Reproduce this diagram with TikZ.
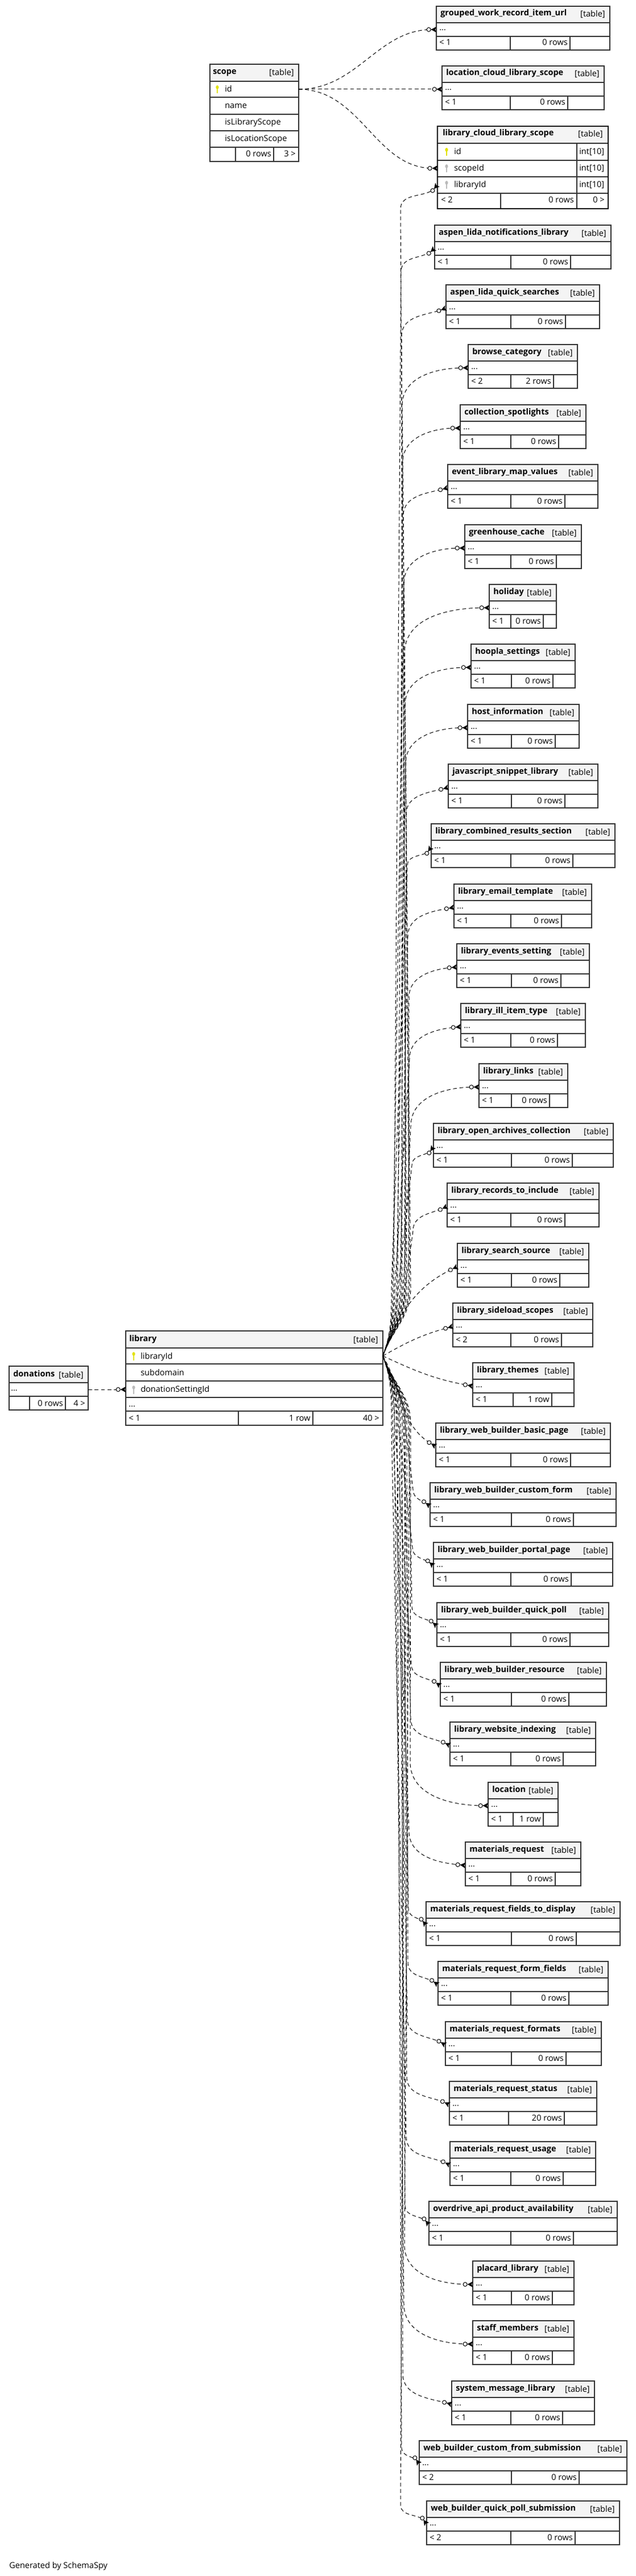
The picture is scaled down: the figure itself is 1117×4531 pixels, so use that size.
\documentclass[tikz,border=0pt]{standalone}
\usepackage{fontspec}
\setmainfont{Open Sans}
\usetikzlibrary{arrows.meta,calc}

\definecolor{hdrgray}{HTML}{F4F4F4}
\definecolor{tblgray}{HTML}{333333}
\definecolor{keyyellow}{HTML}{E2E200}
\definecolor{keygray}{HTML}{BBBBBB}

\newcommand{\tsize}{\fontsize{10.9pt}{13pt}\selectfont}

\tikzset{
  tblline/.style={draw=tblgray, line width=1pt},
  tname/.style={anchor=base west, inner sep=0pt, font=\tsize\bfseries},
  ttag/.style={anchor=base east, inner sep=0pt, font=\tsize},
  ttext/.style={anchor=base west, inner sep=0pt, font=\tsize},
  trows/.style={anchor=base east, inner sep=0pt, font=\tsize},
  fk/.style={line width=0.75pt, dash pattern=on 5pt off 3.5pt,
    -{Circle[fill=white,length=6pt,width=6pt] Stealth[reversed,length=7pt,width=7.5pt,inset=1.5pt]}}
}

%ключ
\newcommand{\keyicon}[2]{%
  \fill[#2] ($(#1)+(0,3.5)$) ellipse (2.6 and 3.4);
  \fill[#2] ($(#1)+(-1,1)$) rectangle ($(#1)+(1,-7.5)$);}

%маленькая таблица: имя, название, лево, право, верх, деления, < n, строки
\newcommand{\tbl}[9]{%
  \fill[hdrgray] (#3,-#5) rectangle (#4,-#5-29);
  \fill[white] (#3,-#5-29) rectangle (#4,-#5-77);
  \draw[tblline] (#3,-#5-29) -- (#4,-#5-29);
  \draw[tblline] (#3,-#5-53) -- (#4,-#5-53);
  \draw[tblline] (#6,-#5-53) -- (#6,-#5-77);
  \draw[tblline] (#7,-#5-53) -- (#7,-#5-77);
  \draw[tblline] (#3,-#5) rectangle (#4,-#5-77);
  \node[tname] (#1) at (#3+7,-#5-17) {#2};
  \node[ttag] (#1-tag) at (#4-8,-#5-19) {[table]};
  \node[ttext] (#1-dots) at (#3+5,-#5-43) {...};
  \node[ttext] (#1-up) at (#3+5,-#5-69) {#8};
  \node[trows] (#1-rows) at (#7-4,-#5-69) {#9};
  \coordinate (#1-in) at (#3,-#5-41);}

%связь от library вверх и вниз: цель, x внизу, x вверху, начало дуги, угол, фаза
\newcommand{\fkup}[6]{%
  \draw[fk, dash phase=#6pt] (lib-key) to[out=70,in=-90] (#2,-2265) -- (#3,-#4) to[out=90,in=#5] (#1);}
\newcommand{\fkdown}[6]{%
  \draw[fk, dash phase=#6pt] (lib-key) to[out=-70,in=90] (#2,-2505) -- (#3,-#4) to[out=-90,in=#5] (#1);}

\begin{document}
\begin{tikzpicture}[x=0.75pt,y=0.75pt]
\useasboundingbox (0,0) rectangle (1117,-4531);
\fill[white] (0,0) rectangle (1117,-4531);

%точки связей
\coordinate (scope-id) at (525,-157);
\coordinate (lib-key) at (673,-2385);
\coordinate (lib-don) at (221,-2444);
\coordinate (don-out) at (155,-2444);
\coordinate (lcl-scope) at (769,-296);
\coordinate (lcl-lib) at (769,-325);

%таблицы справа
\tbl{gwriu}{grouped\_work\_record\_item\_url}{767}{1072}{11}{897}{1002}{< 1}{0 rows}
\tbl{lcls}{location\_cloud\_library\_scope}{777}{1062}{116}{897}{998}{< 1}{0 rows}
\tbl{alnl}{aspen\_lida\_notifications\_library}{764}{1074}{396}{898}{1003}{< 1}{0 rows}
\tbl{alqs}{aspen\_lida\_quick\_searches}{784}{1054}{501}{898}{994}{< 1}{0 rows}
\tbl{bc}{browse\_category}{823}{1015}{606}{898}{973}{< 2}{2 rows}
\tbl{cs}{collection\_spotlights}{809}{1030}{712}{898}{982}{< 1}{0 rows}
\tbl{elmv}{event\_library\_map\_values}{787}{1051}{817}{898}{993}{< 1}{0 rows}
\tbl{gc}{greenhouse\_cache}{817}{1022}{923}{898}{978}{< 1}{0 rows}
\tbl{hol}{holiday}{860}{978}{1028}{898}{955}{< 1}{0 rows}
\tbl{hs}{hoopla\_settings}{828}{1011}{1133}{899}{972}{< 1}{0 rows}
\tbl{hi}{host\_information}{822}{1018}{1239}{899}{976}{< 1}{0 rows}
\tbl{jsl}{javascript\_snippet\_library}{788}{1051}{1344}{899}{993}{< 1}{0 rows}
\tbl{lcrs}{library\_combined\_results\_section}{758}{1081}{1449}{898}{1007}{< 1}{0 rows}
\tbl{let}{library\_email\_template}{798}{1040}{1555}{898}{987}{< 1}{0 rows}
\tbl{les}{library\_events\_setting}{803}{1036}{1660}{899}{986}{< 1}{0 rows}
\tbl{liit}{library\_ill\_item\_type}{810}{1029}{1765}{898}{980}{< 1}{0 rows}
\tbl{ll}{library\_links}{842}{998}{1871}{899}{966}{< 1}{0 rows}
\tbl{loac}{library\_open\_archives\_collection}{762}{1078}{1976}{899}{1006}{< 1}{0 rows}
\tbl{lrti}{library\_records\_to\_include}{786}{1053}{2081}{898}{993}{< 1}{0 rows}
\tbl{lss}{library\_search\_source}{804}{1035}{2187}{899}{984}{< 1}{0 rows}
\tbl{lsls}{library\_sideload\_scopes}{796}{1042}{2292}{898}{987}{< 2}{0 rows}
\tbl{lt}{library\_themes}{831}{1009}{2397}{902}{970}{< 1}{1 row}
\tbl{lwbbp}{library\_web\_builder\_basic\_page}{766}{1073}{2503}{898}{1003}{< 1}{0 rows}
\tbl{lwbcf}{library\_web\_builder\_custom\_form}{756}{1083}{2608}{899}{1008}{< 1}{0 rows}
\tbl{lwbpp}{library\_web\_builder\_portal\_page}{762}{1077}{2713}{898}{1004}{< 1}{0 rows}
\tbl{lwbqp}{library\_web\_builder\_quick\_poll}{768}{1070}{2819}{898}{1002}{< 1}{0 rows}
\tbl{lwbr}{library\_web\_builder\_resource}{774}{1066}{2924}{899}{1000}{< 1}{0 rows}
\tbl{lwi}{library\_website\_indexing}{791}{1047}{3029}{898}{990}{< 1}{0 rows}
\tbl{loc}{location}{858}{981}{3135}{902}{955}{< 1}{1 row}
\tbl{mr}{materials\_request}{818}{1021}{3240}{898}{976}{< 1}{0 rows}
\tbl{mrftd}{materials\_request\_fields\_to\_display}{749}{1090}{3345}{899}{1013}{< 1}{0 rows}
\tbl{mrff}{materials\_request\_form\_fields}{770}{1069}{3450}{898}{1000}{< 1}{0 rows}
\tbl{mrf}{materials\_request\_formats}{783}{1057}{3556}{899}{995}{< 1}{0 rows}
\tbl{mrs}{materials\_request\_status}{790}{1049}{3661}{894}{992}{< 1}{20 rows}
\tbl{mru}{materials\_request\_usage}{791}{1047}{3767}{898}{990}{< 1}{0 rows}
\tbl{oapa}{overdrive\_api\_product\_availability}{754}{1085}{3872}{898}{1008}{< 1}{0 rows}
\tbl{pl}{placard\_library}{831}{1009}{3977}{899}{971}{< 1}{0 rows}
\tbl{sm}{staff\_members}{831}{1009}{4082}{899}{971}{< 1}{0 rows}
\tbl{sml}{system\_message\_library}{794}{1045}{4188}{898}{989}{< 1}{0 rows}
\tbl{wbcfs}{web\_builder\_custom\_from\_submission}{737}{1102}{4293}{899}{1018}{< 2}{0 rows}
\tbl{wbqps}{web\_builder\_quick\_poll\_submission}{750}{1089}{4399}{898}{1011}{< 2}{0 rows}

%таблица library_cloud_library_scope
\fill[hdrgray] (769,-222) rectangle (1069,-252);
\fill[white] (769,-252) rectangle (1069,-367);
\draw[tblline] (769,-252) -- (1069,-252);
\draw[tblline] (769,-282) -- (1069,-282);
\draw[tblline] (769,-311) -- (1069,-311);
\draw[tblline] (769,-340) -- (1069,-340);
\draw[tblline] (1014,-252) -- (1014,-367);
\draw[tblline] (880,-340) -- (880,-367);
\draw[line width=2.2pt] (769,-222) rectangle (1069,-367);
\node[tname] (lcl) at (778,-239) {library\_cloud\_library\_scope};
\node[ttag] (lcl-tag) at (1060,-241) {[table]};
\coordinate (lcl-k1) at (785,-267);
\coordinate (lcl-k2) at (785,-296);
\coordinate (lcl-k3) at (785,-325);
\keyicon{lcl-k1}{keyyellow}
\keyicon{lcl-k2}{keygray}
\keyicon{lcl-k3}{keygray}
\node[ttext] (lcl-id) at (798,-272) {id};
\node[ttext] (lcl-sid) at (798,-301) {scopeId};
\node[ttext] (lcl-lid) at (798,-330) {libraryId};
\node[ttext] (lcl-t1) at (1018,-272) {int[10]};
\node[ttext] (lcl-t2) at (1018,-301) {int[10]};
\node[ttext] (lcl-t3) at (1018,-330) {int[10]};
\node[ttext] (lcl-up) at (775,-357) {< 2};
\node[trows] (lcl-rows) at (1009,-357) {0 rows};
\node[trows] (lcl-down) at (1063,-357) {0 >};

%таблица scope
\fill[hdrgray] (369,-113) rectangle (525,-143);
\fill[white] (369,-143) rectangle (525,-284);
\draw[tblline] (369,-143) -- (525,-143);
\draw[tblline] (369,-171) -- (525,-171);
\draw[tblline] (369,-201) -- (525,-201);
\draw[tblline] (369,-230) -- (525,-230);
\draw[tblline] (369,-259) -- (525,-259);
\draw[tblline] (414,-259) -- (414,-284);
\draw[tblline] (481,-259) -- (481,-284);
\draw[tblline] (369,-113) rectangle (525,-284);
\node[tname] (scope) at (374,-131) {scope};
\node[ttag] (scope-tag) at (517,-133) {[table]};
\coordinate (scope-k) at (382,-157);
\keyicon{scope-k}{keyyellow}
\node[ttext] (scope-c1) at (395,-162) {id};
\node[ttext] (scope-c2) at (395,-191) {name};
\node[ttext] (scope-c3) at (395,-220) {isLibraryScope};
\node[ttext] (scope-c4) at (395,-249) {isLocationScope};
\node[trows] (scope-rows) at (477,-276) {0 rows};
\node[trows] (scope-down) at (520,-276) {3 >};

%таблица library
\fill[hdrgray] (221,-2341) rectangle (673,-2371);
\fill[white] (221,-2371) rectangle (673,-2507);
\draw[tblline] (221,-2371) -- (673,-2371);
\draw[tblline] (221,-2399) -- (673,-2399);
\draw[tblline] (221,-2429) -- (673,-2429);
\draw[tblline] (221,-2458) -- (673,-2458);
\draw[tblline] (221,-2482) -- (673,-2482);
\draw[tblline] (419,-2482) -- (419,-2507);
\draw[tblline] (550,-2482) -- (550,-2507);
\draw[tblline] (221,-2341) rectangle (673,-2507);
\node[tname] (library) at (227,-2359) {library};
\node[ttag] (library-tag) at (665,-2361) {[table]};
\coordinate (lib-k1) at (235,-2385);
\coordinate (lib-k2) at (235,-2444);
\keyicon{lib-k1}{keyyellow}
\keyicon{lib-k2}{keygray}
\node[ttext] (lib-c1) at (247,-2390) {libraryId};
\node[ttext] (lib-c2) at (247,-2419) {subdomain};
\node[ttext] (lib-c3) at (247,-2448) {donationSettingId};
\node[ttext] (lib-dots) at (226,-2474) {...};
\node[ttext] (lib-up) at (226,-2499) {< 1};
\node[trows] (lib-rows) at (546,-2499) {1 row};
\node[trows] (lib-down) at (667,-2499) {40 >};

%таблица donations
\fill[hdrgray] (16,-2403) rectangle (155,-2432);
\fill[white] (16,-2432) rectangle (155,-2480);
\draw[tblline] (16,-2432) -- (155,-2432);
\draw[tblline] (16,-2456) -- (155,-2456);
\draw[tblline] (52,-2456) -- (52,-2480);
\draw[tblline] (115,-2456) -- (115,-2480);
\draw[tblline] (16,-2403) rectangle (155,-2480);
\node[tname] (donations) at (23,-2421) {donations};
\node[ttag] (don-tag) at (147,-2423) {[table]};
\node[ttext] (don-dots) at (19,-2446) {...};
\node[trows] (don-rows) at (111,-2473) {0 rows};
\node[trows] (don-down) at (150,-2473) {4 >};

%связи от scope
\draw[fk] (scope-id) to[out=0,in=180] (gwriu-in);
\draw[fk] (scope-id) -- (lcls-in);
\draw[fk] (scope-id) to[out=0,in=180] (lcl-scope);

%связь donations
\draw[fk] (don-out) -- (lib-don);

%связи от library вверх
\fkup{lcl-lib}{715}{704}{368}{230}{0}
\fkup{alnl-in}{692}{705}{478}{220}{1.2}
\fkup{alqs-in}{707}{706}{591}{200}{2.4}
\fkup{bc-in}{722}{707}{713}{180}{3.6}
\fkup{cs-in}{699}{708}{813}{180}{4.8}
\fkup{elmv-in}{713}{709}{907}{195}{6}
\fkup{gc-in}{690}{710}{1026}{180}{7.2}
\fkup{hol-in}{705}{711}{1150}{180}{0.6}
\fkup{hs-in}{720}{712}{1240}{180}{1.8}
\fkup{hi-in}{697}{713}{1343}{180}{3}
\fkup{jsl-in}{711}{714}{1432}{195}{4.2}
\fkup{lcrs-in}{688}{716}{1523}{235}{5.4}
\fkup{let-in}{703}{717}{1647}{190}{6.6}
\fkup{les-in}{718}{719}{1754}{185}{7.8}
\fkup{liit-in}{694}{720}{1862}{185}{0.3}
\fkup{ll-in}{709}{722}{1981}{180}{1.5}
\fkup{loac-in}{700}{724}{2050}{235}{2.7}
\fkup{lrti-in}{712}{726}{2165}{205}{3.9}
\draw[fk] (lib-key) to[out=70,in=205] (lss-in);
\draw[fk] (lib-key) to[out=30,in=195] (lsls-in);

%связи от library вниз
\draw[fk] (lib-key) to[out=-25,in=170] (lt-in);
\draw[fk] (lib-key) to[out=-60,in=150] (lwbbp-in);
\fkdown{lwbcf-in}{712}{726}{2620}{145}{0}
\fkdown{lwbpp-in}{700}{725}{2722}{140}{1.2}
\fkdown{lwbqp-in}{718}{724}{2825}{140}{2.4}
\fkdown{lwbr-in}{694}{723}{2927}{145}{3.6}
\fkdown{lwi-in}{709}{722}{3023}{155}{4.8}
\fkdown{loc-in}{722}{721}{3099}{180}{6}
\fkdown{mr-in}{690}{719}{3221}{175}{7.2}
\fkdown{mrftd-in}{704}{718}{3357}{130}{0.6}
\fkdown{mrff-in}{715}{717}{3452}{145}{1.8}
\fkdown{mrf-in}{697}{716}{3551}{150}{3}
\fkdown{mrs-in}{711}{715}{3653}{155}{4.2}
\fkdown{mru-in}{688}{714}{3758}{155}{5.4}
\fkdown{oapa-in}{702}{712}{3879}{130}{6.6}
\fkdown{pl-in}{720}{711}{3949}{180}{7.8}
\fkdown{sm-in}{693}{710}{4053}{180}{0.3}
\fkdown{sml-in}{707}{708}{4175}{165}{1.5}
\fkdown{wbcfs-in}{698}{706}{4305}{125}{2.7}
\fkdown{wbqps-in}{713}{704}{4405}{125}{3.9}

%подпись
\node[ttext] (credit) at (16,-4517) {Generated by SchemaSpy};
\end{tikzpicture}
\end{document}
